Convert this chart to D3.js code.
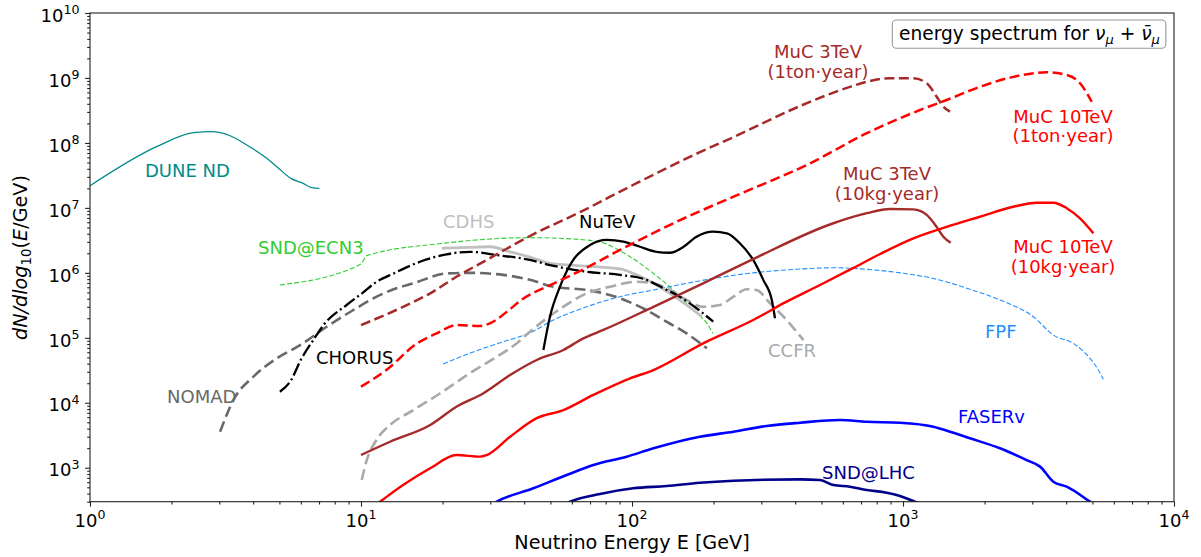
<!DOCTYPE html>
<html><head><meta charset="utf-8">
<script src="https://cdn.jsdelivr.net/npm/d3@7"></script>
<style>
body{margin:0;background:#fff}
svg{display:block}
text{font-family:"DejaVu Sans",sans-serif}
</style>
</head><body>
<svg id="chart" width="1201" height="557"></svg>
<script>
// ---------- data (E in GeV, dN/dlog10E) ----------
const xMajorTicks = [1, 10, 100, 1000, 10000];
const yMajorTicks = [1e3, 1e4, 1e5, 1e6, 1e7, 1e8, 1e9, 1e10];
const xDomain = [1, 1e4];
const yDomain = [300, 1e10];

const duneND = [[1.0,2.19e7],[1.76,8.75e7],[2.41,1.44e8],[2.81,1.49e8],[3.29,1.29e8],[3.79,9.3e7],[4.49,5.8e7],[4.89,4.3e7],[5.55,2.79e7],[6.04,2.44e7],[6.58,2.05e7],[7.02,2.0e7]];
const sndECN3 = [[5.02,6.5e5],[10.0,1.37e6],[10.5,1.84e6],[20.1,2.85e6],[42.0,3.48e6],[68,3.2e6],[80,2.8e6],[98.4,1.77e6],[120,9.8e5],[142,5.45e5],[168,2.68e5],[189,1.67e5],[199,1.17e5]];
const chorus = [[5.02,1.48e4],[5.47,2.1e4],[6.04,4.84e4],[6.67,9.25e4],[7.36,1.67e5],[8.85,3.2e5],[10.06,4.8e5],[11.43,7.3e5],[13.2,9.8e5],[16.5,1.48e6],[20.7,1.93e6],[25.2,2.11e6],[31.7,1.88e6],[42,1.58e6],[49.8,1.32e6],[68,1.04e6],[90.3,9.3e5],[113,7.8e5],[130.5,5.8e5],[150,4.3e5],[173,2.85e5],[199.5,1.77e5]];
const nomad = [[3.02,3.58e3],[3.38,1.1e4],[4.01,2.52e4],[4.89,4.84e4],[5.96,7.7e4],[7.47,1.48e5],[9.37,2.68e5],[11.43,4.3e5],[13.5,5.78e5],[15.6,6.9e5],[20.7,9.8e5],[25.2,1.0e6],[33.5,9.3e5],[42.0,7.8e5],[51.3,6.1e5],[68.0,5.45e5],[90.3,4.06e5],[113,2.68e5],[134,1.77e5],[159,1.17e5],[189,6.9e4]];
const cdhs = [[19.85,2.39e6],[25.2,2.47e6],[29.9,2.52e6],[35.5,2.11e6],[42,1.75e6],[49.8,1.40e6],[68,1.27e6],[90.3,1.15e6],[104,9.3e5],[120,6.9e5],[138,4.84e5],[159,3.2e5],[181,2.11e5]];
const nutev = [[47.1,6.5e4],[49.8,2.11e5],[54.2,6.1e5],[60.7,1.58e6],[70.0,2.68e6],[80.7,3.21e6],[92.9,3.02e6],[107,2.52e6],[123,2.11e6],[138,2.04e6],[155,2.52e6],[173,3.6e6],[199.5,4.3e6],[224,4.06e6],[250,2.85e6],[280,1.58e6],[305,7.8e5],[328,3.82e5],[337,2.0e5]];
const ccfr = [[10.06,647],[10.5,1.31e3],[11.4,2.67e3],[12.8,4.55e3],[15.6,7.7e3],[19.6,1.4e4],[25.2,2.84e4],[31.7,5.1e4],[37.5,8.2e4],[42,1.24e5],[55.8,3.0e5],[68,4.84e5],[83,6.1e5],[104,7.3e5],[120,6.9e5],[138,5.45e5],[159,3.82e5],[183,3.0e5],[211,3.2e5],[237,4.3e5],[265,5.6e5],[288,5.45e5],[323,3.4e5],[372,1.88e5],[429,9.2e4]];
const fpf = [[20.1,3.95e4],[25.2,5.8e4],[33.5,8.7e4],[42,1.19e5],[51.3,1.88e5],[68,3.0e5],[90.3,4.3e5],[120,5.45e5],[159,6.9e5],[211,8.5e5],[280,1.0e6],[372,1.11e6],[569,1.2e6],[700,1.15e6],[975,1.0e6],[1294,8.2e5],[1718,5.8e5],[2280,3.82e5],[3027,2.11e5],[3588,1.1e5],[4250,8.2e4],[4898,4.84e4],[5260,3.2e4],[5485,2.3e4]];
const muc3Ton = [[10.0,1.57e5],[14.3,3.0e5],[18.0,4.84e5],[22.5,8.7e5],[29.1,1.58e6],[42,3.69e6],[64.3,8.6e6],[100.8,2.25e7],[178,7.2e7],[237,1.23e8],[417,3.7e8],[637,7.3e8],[755,8.98e8],[895,9.9e8],[1092,9.9e8],[1223,8.3e8],[1331,5.15e8],[1409,3.61e8],[1491,3.03e8]];
const muc10Ton = [[10.0,1.77e4],[12.4,3.19e4],[16.1,8.2e4],[19.0,1.17e5],[22.5,1.57e5],[27.5,1.52e5],[29.9,1.67e5],[35.5,2.77e5],[38.6,3.7e5],[51.3,6.8e5],[68,1.2e6],[90.3,2.25e6],[159,7.2e6],[237,1.49e7],[454,4.85e7],[735,1.41e8],[1155,3.21e8],[1449,4.58e8],[1923,7.3e8],[2553,1.04e9],[3390,1.22e9],[4018,1.11e9],[4500,8.3e8],[4970,4.3e8]];
const muc3Kg = [[10.0,1.57e3],[12.8,2.51e3],[18.0,4.55e3],[22.5,8.7e3],[28.3,1.4e4],[35.5,2.67e4],[44.5,4.55e4],[55.8,6.5e4],[66.1,9.8e4],[78.4,1.32e5],[120,3.0e5],[183,6.9e5],[280,1.63e6],[553,5.8e6],[735,8.3e6],[895,9.6e6],[1092,9.5e6],[1223,7.8e6],[1331,5.1e6],[1409,3.6e6],[1500,2.91e6]];
const muc10Kg = [[11.0,245],[11.75,300],[14.3,542],[18.0,980],[22.5,1.57e3],[27.5,1.48e3],[29.1,1.57e3],[35.5,3.0e3],[44.5,5.8e3],[55.8,7.7e3],[72.0,1.32e4],[98.4,2.38e4],[120,3.19e4],[183,8.2e4],[280,1.88e5],[372,3.6e5],[494,6.5e5],[656,1.19e6],[823,1.95e6],[1092,3.4e6],[1449,5.1e6],[1923,7.3e6],[2553,1.04e7],[3113,1.2e7],[3588,1.2e7],[4018,9.9e6],[4500,6.9e6],[5040,4.06e6]];
const faser = [[29.5,250],[31.7,300],[43.2,482],[57.4,773],[72,1.1e3],[95.6,1.48e3],[120,1.99e3],[178,3.0e3],[237,3.59e3],[314,4.39e3],[417,4.93e3],[586,5.43e3],[735,5.1e3],[975,4.93e3],[1294,4.28e3],[1491,3.59e3],[1767,2.84e3],[2280,1.99e3],[2860,1.31e3],[3205,1.04e3],[3588,610],[4018,511],[4898,300],[5300,240]];
const sndLHC = [[55,260],[59.0,300],[76.2,394],[101,482],[134,523],[178,588],[237,631],[417,663],[494,647],[553,542],[637,511],[735,454],[871,413],[975,367],[1107,300],[1200,270]];

// ---------- styles / layout ----------
const series = [
  {data: duneND,  color:"#008b8b", width:1.3, dash:null},
  {data: sndECN3, color:"#32cd32", width:1.1, dash:"5,2.2"},
  {data: fpf,     color:"#1e90ff", width:1.1, dash:"5,2.2"},
  {data: nomad,   color:"#696969", width:2.6, dash:"11,5"},
  {data: cdhs,    color:"#c0c0c0", width:2.8, dash:null},
  {data: ccfr,    color:"#a9a9a9", width:2.6, dash:"11,5"},
  {data: chorus,  color:"#000000", width:2.3, dash:"13,3.3,2,3.3"},
  {data: nutev,   color:"#000000", width:2.3, dash:null},
  {data: muc3Ton, color:"#a52a2a", width:2.5, dash:"10,4.5"},
  {data: muc10Ton,color:"#ff0000", width:2.5, dash:"10,4.5"},
  {data: muc3Kg,  color:"#a52a2a", width:2.4, dash:null},
  {data: muc10Kg, color:"#ff0000", width:2.4, dash:null},
  {data: faser,   color:"#0000ff", width:2.6, dash:null},
  {data: sndLHC,  color:"#00008b", width:2.6, dash:null}
];
const labels = [
  {lines:["DUNE ND"], x:145, y:177, color:"#008b8b", anchor:"start"},
  {lines:["SND@ECN3"], x:258, y:254, color:"#32cd32", anchor:"start"},
  {lines:["CDHS"], x:443, y:228, color:"#c0c0c0", anchor:"start"},
  {lines:["NuTeV"], x:579, y:228, color:"#000000", anchor:"start"},
  {lines:["CHORUS"], x:316, y:364, color:"#000000", anchor:"start"},
  {lines:["NOMAD"], x:167, y:403, color:"#696969", anchor:"start"},
  {lines:["CCFR"], x:768, y:357, color:"#a9a9a9", anchor:"start"},
  {lines:["FPF"], x:985, y:338, color:"#1e90ff", anchor:"start"},
  {lines:["FASERv"], x:958, y:423, color:"#0000ff", anchor:"start"},
  {lines:["SND@LHC"], x:822, y:479, color:"#00008b", anchor:"start"},
  {lines:["MuC 3TeV","(1ton·year)"], x:818, y:58, color:"#a52a2a", anchor:"middle"},
  {lines:["MuC 3TeV","(10kg·year)"], x:887, y:180, color:"#a52a2a", anchor:"middle"},
  {lines:["MuC 10TeV","(1ton·year)"], x:1063, y:122.7, color:"#ff0000", anchor:"middle"},
  {lines:["MuC 10TeV","(10kg·year)"], x:1063, y:253, color:"#ff0000", anchor:"middle"}
];

const M = {left:90, top:13, right:1174, bottom:501.7};
const svg = d3.select("#chart");
svg.append("rect").attr("width",1201).attr("height",557).attr("fill","#fff");

const x = d3.scaleLog().domain(xDomain).range([M.left, M.right]);
const y = d3.scaleLog().domain(yDomain).range([M.bottom, M.top]);

// minor ticks
const xMinor = [], yMinor = [];
for (let e = 0; e < 4; e++) for (let m = 2; m <= 9; m++) xMinor.push(m * Math.pow(10, e));
for (let e = 2; e < 10; e++) for (let m = 2; m <= 9; m++) { const v = m * Math.pow(10, e); if (v >= 300) yMinor.push(v); }

svg.append("defs").append("clipPath").attr("id","clip")
  .append("rect").attr("x",M.left).attr("y",M.top).attr("width",M.right-M.left).attr("height",M.bottom-M.top);

// lines
const line = d3.line().x(d => x(d[0])).y(d => y(d[1])).curve(d3.curveMonotoneX);
const gl = svg.append("g").attr("clip-path","url(#clip)");
series.forEach(s => {
  gl.append("path").attr("d", line(s.data)).attr("fill","none")
    .attr("stroke", s.color).attr("stroke-width", s.width)
    .attr("stroke-dasharray", s.dash).attr("stroke-linejoin","round");
});

// axes
function styleAxis(g){ g.select(".domain").remove(); g.selectAll("line").attr("stroke","#222").attr("stroke-width",1.1); }
svg.append("g").attr("transform",`translate(0,${M.bottom})`)
  .call(d3.axisBottom(x).tickValues(xMajorTicks).tickSize(4.9).tickSizeOuter(0).tickFormat(() => "")).call(styleAxis);
svg.append("g").attr("transform",`translate(0,${M.bottom})`)
  .call(d3.axisBottom(x).tickValues(xMinor).tickSize(2.8).tickSizeOuter(0).tickFormat(() => "")).call(styleAxis);
svg.append("g").attr("transform",`translate(${M.left},0)`)
  .call(d3.axisLeft(y).tickValues(yMajorTicks).tickSize(4.9).tickSizeOuter(0).tickFormat(() => "")).call(styleAxis);
svg.append("g").attr("transform",`translate(${M.left},0)`)
  .call(d3.axisLeft(y).tickValues(yMinor).tickSize(2.8).tickSizeOuter(0).tickFormat(() => "")).call(styleAxis);

// frame
svg.append("rect").attr("x",M.left).attr("y",M.top).attr("width",M.right-M.left).attr("height",M.bottom-M.top)
  .attr("fill","none").attr("stroke","#222").attr("stroke-width",1.1);

// tick labels
xMajorTicks.forEach(v => {
  const t = svg.append("text").attr("x", x(v)).attr("y", 527).attr("text-anchor","middle").attr("font-size",18);
  t.append("tspan").text("10");
  t.append("tspan").attr("dy",-8.4).attr("font-size",12.6).text(Math.round(Math.log10(v)));
});
yMajorTicks.forEach(v => {
  const t = svg.append("text").attr("x", 79.5).attr("y", y(v) + 8.7).attr("text-anchor","end").attr("font-size",18);
  t.append("tspan").text("10");
  t.append("tspan").attr("dy",-7.7).attr("font-size",12.6).text(Math.round(Math.log10(v)));
});

// axis titles
svg.append("text").attr("x", (M.left+M.right)/2).attr("y", 549).attr("text-anchor","middle")
  .attr("font-size",19.2).text("Neutrino Energy E [GeV]");
const yl = svg.append("text").attr("transform","translate(27,257.5) rotate(-90)")
  .attr("text-anchor","middle").attr("font-size",19.2);
yl.append("tspan").attr("font-style","italic").text("dN/dlog");
yl.append("tspan").attr("font-size",13.4).attr("dy",4).text("10");
yl.append("tspan").attr("dy",-4).text("(");
yl.append("tspan").attr("font-style","italic").text("E");
yl.append("tspan").text("/GeV)");

// series labels
labels.forEach(l => {
  l.lines.forEach((s, i) => {
    svg.append("text").attr("x", l.x).attr("y", l.y + i*19.5).attr("text-anchor", l.anchor)
      .attr("fill", l.color).attr("font-size",18).text(s);
  });
});

// title box
const tb = svg.append("g");
const boxRect = tb.append("rect");
const tt = tb.append("text").attr("x",899).attr("y",39.5).attr("font-size",18.6);
tt.append("tspan").text("energy spectrum for ");
tt.append("tspan").attr("font-style","italic").text("ν");
tt.append("tspan").attr("font-style","italic").attr("font-size",13).attr("dy",4).text("μ");
tt.append("tspan").attr("dy",-4).text(" + ");
tt.append("tspan").attr("font-style","italic").text("ν\u0304");
tt.append("tspan").attr("font-style","italic").attr("font-size",13).attr("dy",4).text("μ");
const bb = tt.node().getBBox();
boxRect.attr("x", 892.3).attr("y", 20).attr("width", Math.max(bb.x + bb.width + 6 - 892.3, 100)).attr("height", 28.3)
  .attr("rx",4).attr("fill","#fff").attr("stroke","#999").attr("stroke-width",1.1);
</script>
</body></html>
